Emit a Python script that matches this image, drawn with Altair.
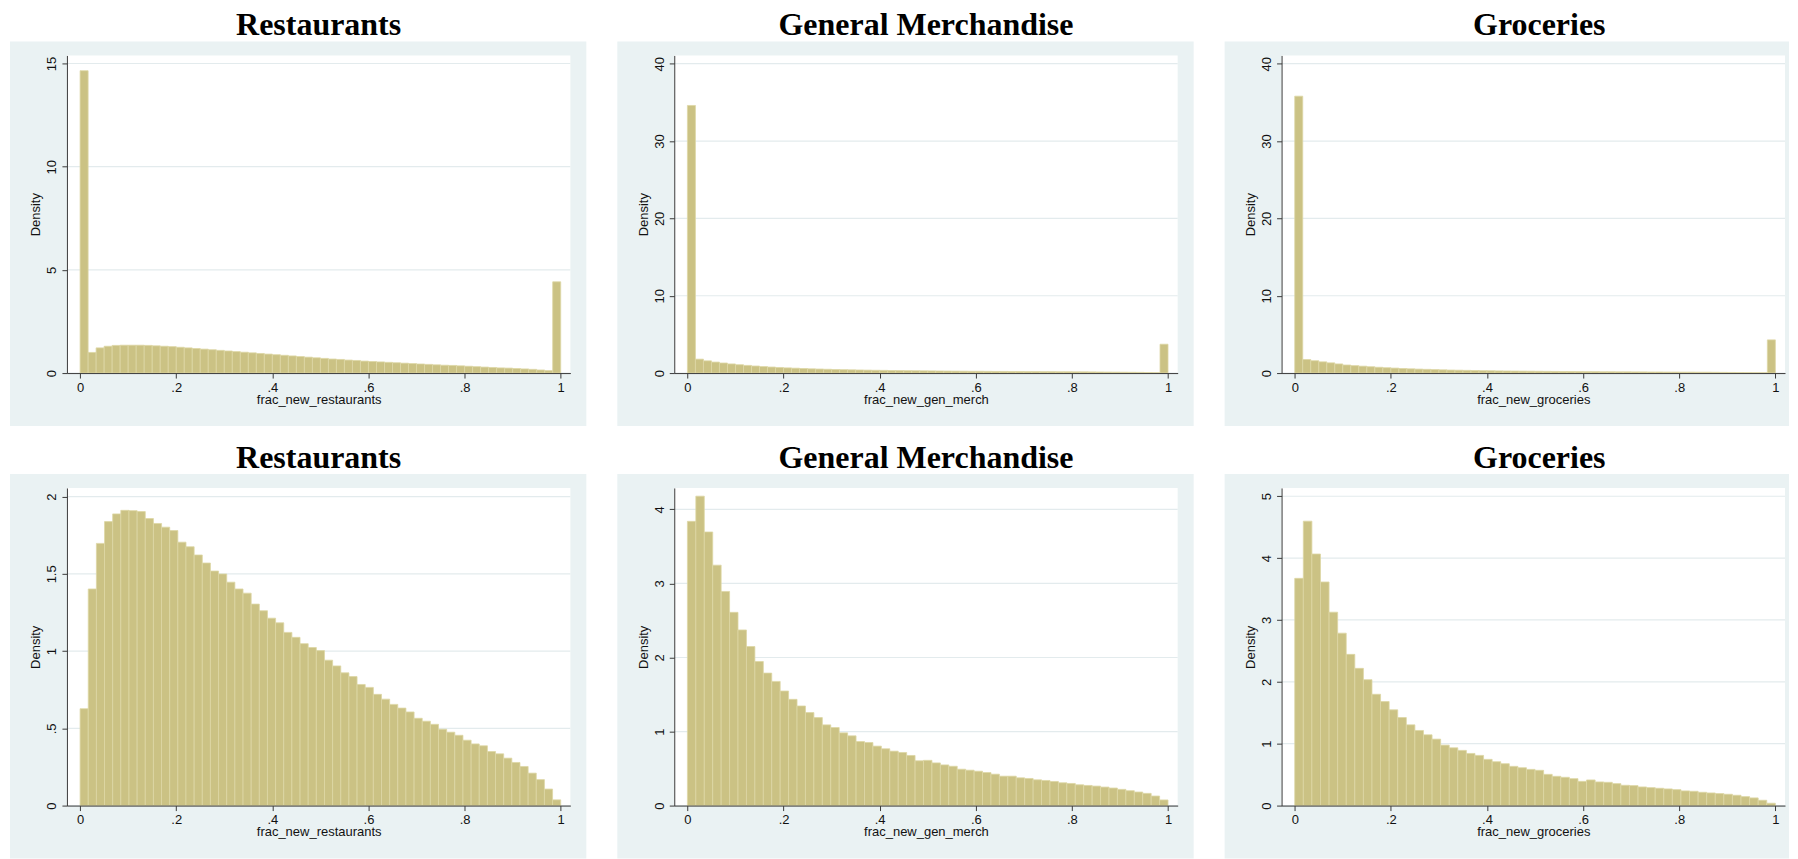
import altair as alt
import pandas as pd

# ---------------- data ----------------
titles = ["Restaurants", "General Merchandise", "Groceries"]
x_titles = ["frac_new_restaurants", "frac_new_gen_merch", "frac_new_groceries"]
x_ticks = [0, 0.2, 0.4, 0.6, 0.8, 1]

# top row: all observations (spikes at 0 and 1)
rest_all = [14.65, 1.00, 1.22, 1.30, 1.34, 1.35, 1.35, 1.35, 1.34, 1.32,
            1.30, 1.28, 1.25, 1.22, 1.19, 1.16, 1.13, 1.10, 1.07, 1.04,
            1.01, 0.98, 0.95, 0.92, 0.89, 0.86, 0.83, 0.80, 0.77, 0.74,
            0.71, 0.68, 0.66, 0.63, 0.61, 0.58, 0.56, 0.54, 0.52, 0.50,
            0.48, 0.46, 0.44, 0.42, 0.40, 0.38, 0.37, 0.35, 0.33, 0.31,
            0.29, 0.27, 0.25, 0.24, 0.22, 0.20, 0.18, 0.15, 0.12, 4.42]
gm_all = [34.6, 1.80, 1.58, 1.42, 1.30, 1.18, 1.08, 0.99, 0.91, 0.84,
          0.78, 0.72, 0.67, 0.63, 0.59, 0.55, 0.52, 0.49, 0.46, 0.44,
          0.42, 0.40, 0.38, 0.36, 0.35, 0.33, 0.32, 0.31, 0.30, 0.29,
          0.28, 0.27, 0.26, 0.25, 0.24, 0.23, 0.23, 0.22, 0.21, 0.21,
          0.20, 0.20, 0.19, 0.19, 0.18, 0.18, 0.17, 0.17, 0.16, 0.16,
          0.15, 0.14, 0.13, 0.12, 0.11, 0.10, 0.09, 0.07, 0.05, 3.73]
groc_all = [35.8, 1.75, 1.60, 1.45, 1.32, 1.18, 1.04, 0.96, 0.89, 0.82,
            0.75, 0.69, 0.64, 0.59, 0.55, 0.51, 0.48, 0.45, 0.42, 0.39,
            0.37, 0.35, 0.33, 0.31, 0.30, 0.28, 0.27, 0.26, 0.25, 0.24,
            0.23, 0.22, 0.21, 0.20, 0.20, 0.19, 0.18, 0.18, 0.17, 0.17,
            0.16, 0.16, 0.15, 0.15, 0.14, 0.14, 0.13, 0.13, 0.12, 0.12,
            0.11, 0.11, 0.10, 0.09, 0.08, 0.07, 0.06, 0.05, 0.04, 4.29]

# bottom row: strictly between 0 and 1
rest_pos = [0.627, 1.402, 1.697, 1.838, 1.888, 1.911, 1.909, 1.903, 1.858, 1.826,
            1.802, 1.780, 1.705, 1.675, 1.622, 1.570, 1.518, 1.499, 1.446, 1.402,
            1.375, 1.304, 1.261, 1.213, 1.183, 1.121, 1.089, 1.048, 1.023, 1.003,
            0.941, 0.904, 0.859, 0.835, 0.784, 0.765, 0.720, 0.689, 0.655, 0.631,
            0.606, 0.565, 0.546, 0.526, 0.494, 0.475, 0.455, 0.423, 0.399, 0.387,
            0.350, 0.335, 0.307, 0.279, 0.253, 0.210, 0.168, 0.107, 0.037]
gm_pos = [3.839, 4.179, 3.695, 3.247, 2.892, 2.610, 2.372, 2.148, 1.946, 1.789,
          1.677, 1.547, 1.435, 1.345, 1.256, 1.188, 1.090, 1.054, 0.982, 0.942,
          0.865, 0.852, 0.803, 0.767, 0.735, 0.717, 0.677, 0.605, 0.611, 0.576,
          0.549, 0.531, 0.491, 0.478, 0.464, 0.446, 0.424, 0.397, 0.397, 0.375,
          0.366, 0.348, 0.339, 0.326, 0.308, 0.299, 0.281, 0.272, 0.263, 0.250,
          0.237, 0.219, 0.201, 0.183, 0.165, 0.129, 0.076]
groc_pos = [3.673, 4.597, 4.066, 3.614, 3.126, 2.787, 2.444, 2.218, 2.035, 1.799,
            1.681, 1.547, 1.423, 1.305, 1.214, 1.144, 1.074, 0.977, 0.934, 0.892,
            0.843, 0.811, 0.747, 0.709, 0.677, 0.634, 0.612, 0.585, 0.570, 0.505,
            0.473, 0.457, 0.435, 0.392, 0.414, 0.382, 0.376, 0.355, 0.328, 0.323,
            0.301, 0.290, 0.280, 0.269, 0.258, 0.237, 0.231, 0.215, 0.204, 0.194,
            0.183, 0.167, 0.145, 0.124, 0.086, 0.038]

top_ticks = [[0, 5, 10, 15], [0, 10, 20, 30, 40], [0, 10, 20, 30, 40]]
bot_ticks = [[0, 0.5, 1, 1.5, 2], [0, 1, 2, 3, 4], [0, 1, 2, 3, 4, 5]]
top_ymax = [15.39, 41.07, 41.07]
bot_ymax = [2.056, 4.29, 5.134]

# ---------------- style ----------------
W, H = 504, 318
BG = "#EAF2F3"
GRID = "#E3EBED"
BAR = "#CBC284"
BAR_EDGE = "#DDD7A4"
LABEL_EXPR = "replace(format(datum.value, '~g'), '0.', '.')"


def panel(vals, title, xtitle, ymax, yticks, last_col):
    n = len(vals)
    df = pd.DataFrame({
        "start": [i / n for i in range(n)],
        "end": [(i + 1) / n for i in range(n)],
        "density": vals,
    })
    one = pd.DataFrame({"a": [0]})
    xs = alt.Scale(domain=[-0.0274, 1.0201], nice=False, zero=False)
    ys = alt.Scale(domain=[0, ymax], nice=False)
    yaxis = alt.Axis(values=yticks, title="Density", grid=False, zindex=1,
                     labelAngle=270, labelAlign="center", labelBaseline="bottom",
                     labelPadding=3, titlePadding=3, tickSize=5,
                     labelExpr=LABEL_EXPR, labelFlush=False, labelOverlap=False)
    xaxis = alt.Axis(values=x_ticks, title=xtitle, grid=False, zindex=1,
                     labelPadding=3, titlePadding=-1, tickSize=5,
                     labelExpr=LABEL_EXPR, labelFlush=False, labelOverlap=False)

    right = W + 4 if last_col else W + 16
    bg = alt.Chart(one).mark_rect(color=BG).encode(
        x=alt.value(-57), x2=alt.value(right),
        y=alt.value(-14), y2=alt.value(H + 53))
    white = alt.Chart(one).mark_rect(color="white").encode(
        x=alt.value(0), x2=alt.value(W), y=alt.value(0), y2=alt.value(H))
    grid = alt.Chart(pd.DataFrame({"tick": yticks})).mark_rule(
        color=GRID, strokeWidth=1.2).encode(
        y=alt.Y("tick:Q", scale=ys, axis=yaxis),
        x=alt.value(0), x2=alt.value(W))
    bars = alt.Chart(df).mark_rect(color=BAR, stroke=BAR_EDGE, strokeWidth=0.8).encode(
        x=alt.X("start:Q", scale=xs, axis=xaxis),
        x2="end:Q",
        y=alt.Y("density:Q", scale=ys, axis=yaxis),
        y2=alt.datum(0),
    )
    tp = alt.TitleParams(title, dx=6) if last_col else alt.TitleParams(title)
    return alt.layer(bg, white, grid, bars).properties(width=W, height=H, title=tp)


charts = []
for i, (vals, t, xt, ym, tk) in enumerate(zip([rest_all, gm_all, groc_all], titles, x_titles, top_ymax, top_ticks)):
    charts.append(panel(vals, t, xt, ym, tk, i == 2))
for i, (vals, t, xt, ym, tk) in enumerate(zip([rest_pos, gm_pos, groc_pos], titles, x_titles, bot_ymax, bot_ticks)):
    charts.append(panel(vals, t, xt, ym, tk, i == 2))

chart = alt.concat(*charts, columns=3, spacing={"row": 115, "column": 104}, bounds="flush").properties(
    padding={"left": 1, "top": 0, "right": 0, "bottom": 0},
    background="white",
).configure_view(stroke="transparent").configure_axis(
    labelFont="Liberation Sans", titleFont="Liberation Sans",
    labelFontSize=13, titleFontSize=13, titleFontWeight="normal",
    labelColor="#111111", titleColor="#111111",
    domainColor="#3a3a3a", tickColor="#3a3a3a", domainWidth=1, tickWidth=1,
).configure_title(
    font="Liberation Serif", fontSize=32, fontWeight="bold", color="#000000",
    offset=-1, anchor="middle",
)

chart.save("out.html", embed_options={"renderer": "svg", "actions": False})
